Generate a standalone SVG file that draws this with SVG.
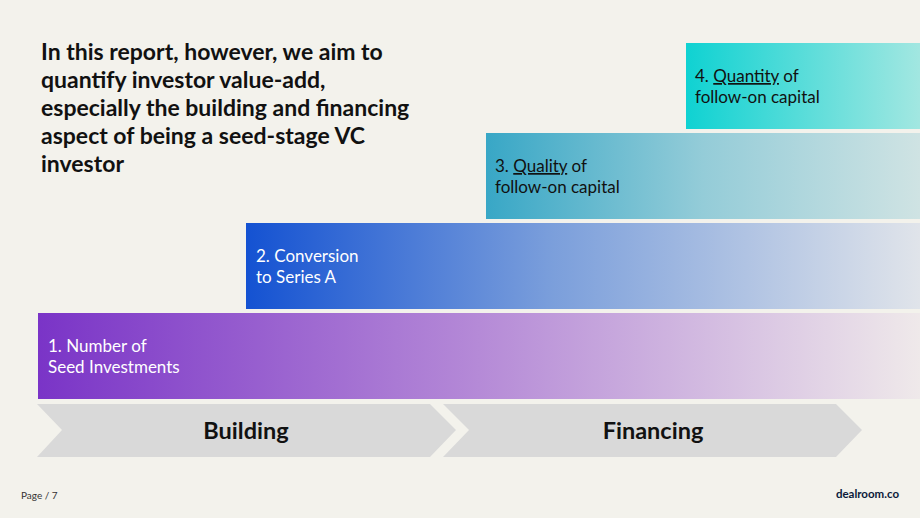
<svg xmlns="http://www.w3.org/2000/svg" width="920" height="518" viewBox="0 0 920 518">
<style>
.t{font-family:Lato,"Open Sans","DejaVu Sans",sans-serif}
.title{font-size:23px;font-weight:700;fill:#111}
.bl{font-size:17px}
.w{fill:#fff}
.d{fill:#111}
.ch{fill:#d9d9d9}
.cl{font-size:23.5px;font-weight:700;fill:#111;text-anchor:middle}
</style>
<defs>
<linearGradient id="g1" x1="0" x2="1" y1="0" y2="0"><stop offset="0" stop-color="#7a34c7"/><stop offset="0.5" stop-color="#b58ad7"/><stop offset="1" stop-color="#efe9ea"/></linearGradient>
<linearGradient id="g2" x1="0" x2="1" y1="0" y2="0"><stop offset="0" stop-color="#1452d2"/><stop offset="0.45" stop-color="#7a9edb"/><stop offset="1" stop-color="#e0e4ea"/></linearGradient>
<linearGradient id="g3" x1="0" x2="1" y1="0" y2="0"><stop offset="0" stop-color="#38a7c6"/><stop offset="0.5" stop-color="#94ccd8"/><stop offset="1" stop-color="#cfe3e3"/></linearGradient>
<linearGradient id="g4" x1="0" x2="1" y1="0" y2="0"><stop offset="0" stop-color="#0fd2d2"/><stop offset="1" stop-color="#a2e7e1"/></linearGradient>
</defs>
<rect width="920" height="518" fill="#f3f2ec"/>
<g id="title" class="t title">
<text x="41" y="60">In this report, however, we aim to</text>
<text x="41" y="88">quantify investor value-add,</text>
<text x="41" y="116">especially the building and financing</text>
<text x="41" y="144">aspect of being a seed-stage VC</text>
<text x="41" y="172">investor</text>
</g>
<g id="bar4">
<rect x="686" y="43" width="234" height="86" fill="url(#g4)"/>
<text class="t bl d" x="695" y="82">4. <tspan text-decoration="underline">Quantity</tspan> of</text>
<text class="t bl d" x="695" y="103">follow-on capital</text>
</g>
<g id="bar3">
<rect x="486" y="133" width="434" height="86" fill="url(#g3)"/>
<text class="t bl d" x="495" y="172">3. <tspan text-decoration="underline">Quality</tspan> of</text>
<text class="t bl d" x="495" y="193">follow-on capital</text>
</g>
<g id="bar2">
<rect x="246" y="223" width="674" height="86" fill="url(#g2)"/>
<text class="t bl w" x="256" y="262">2. Conversion</text>
<text class="t bl w" x="256" y="283">to Series A</text>
</g>
<g id="bar1">
<rect x="38" y="313" width="882" height="86" fill="url(#g1)"/>
<text class="t bl w" x="48" y="352">1. Number of</text>
<text class="t bl w" x="48" y="373">Seed Investments</text>
</g>
<g id="building">
<polygon class="ch" points="37,404 430,404 456,430 430,457 37,457 62,430"/>
<text class="t cl" x="246" y="439">Building</text>
</g>
<g id="financing">
<polygon class="ch" points="443,404 836,404 862,430 836,457 443,457 469,430"/>
<text class="t cl" x="653" y="439">Financing</text>
</g>
<g id="footer">
<text class="t" x="21" y="499" font-size="10" fill="#333">Page / 7</text>
<text class="t" x="899" y="498" font-size="11.5" font-weight="700" fill="#0b1a3a" text-anchor="end">dealroom.co</text>
</g>
</svg>
